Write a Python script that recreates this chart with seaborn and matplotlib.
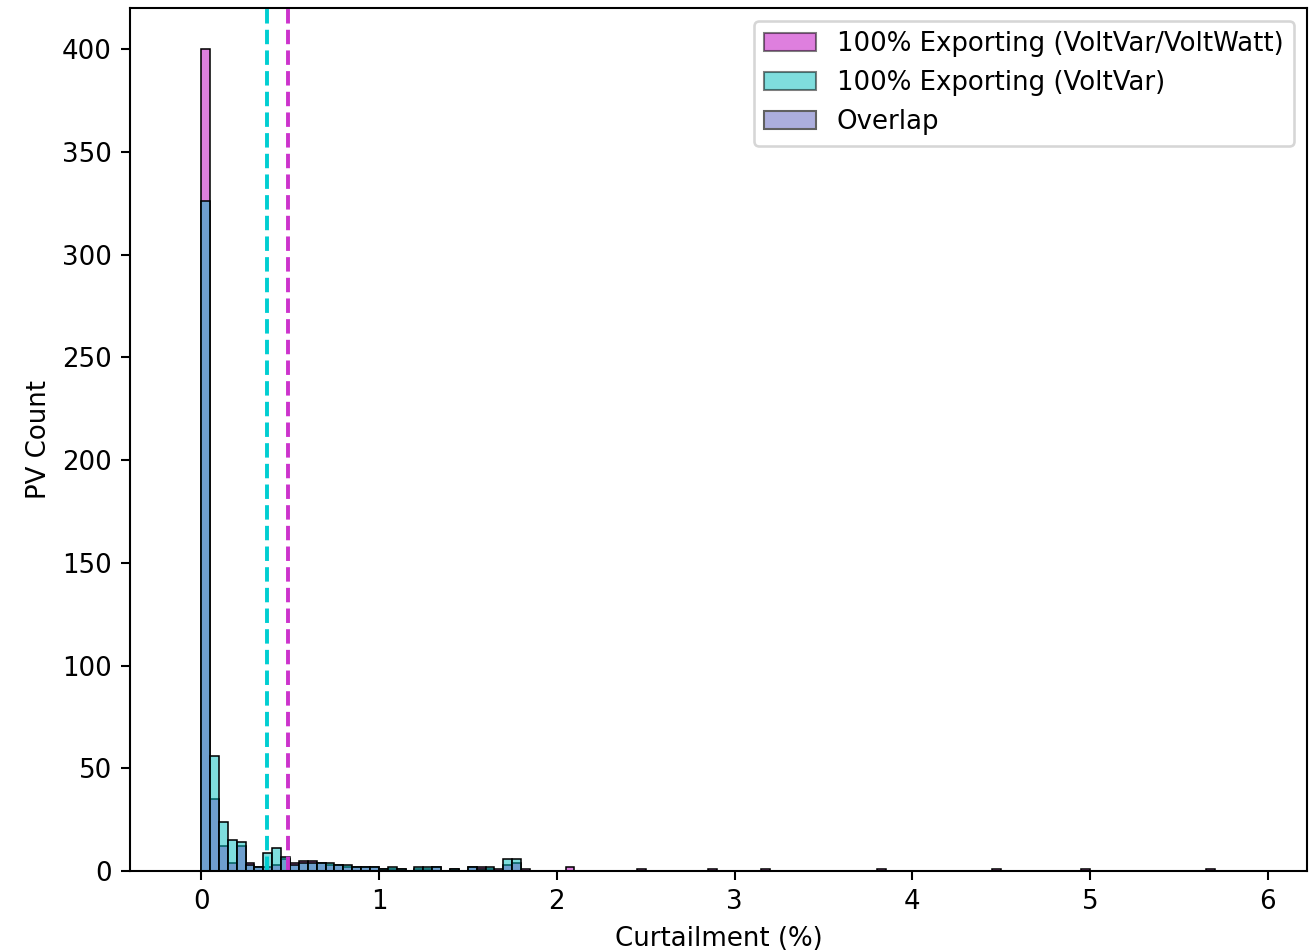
import numpy as np
import pandas as pd
import matplotlib
matplotlib.use("Agg")
import matplotlib.pyplot as plt
import seaborn as sns
from matplotlib.patches import Patch

# Curtailment (%) bin centres (bin width 0.05) and PV counts per bin
vvw_x = [0.025, 0.075, 0.125, 0.175, 0.225, 0.275, 0.325, 0.375, 0.425, 0.475,
         0.525, 0.575, 0.625, 0.675, 0.725, 0.775, 0.825, 0.875, 0.925, 0.975,
         1.025, 1.075, 1.125, 1.225, 1.275, 1.325, 1.425, 1.525, 1.575, 1.625,
         1.675, 1.725, 1.775, 1.825, 2.075, 2.475, 2.875, 3.175, 3.825, 4.475,
         4.975, 5.675]
vvw_n = [400, 35, 12, 4, 12, 4, 2, 2, 3, 6,
         4, 5, 5, 4, 3, 3, 2, 2, 2, 2,
         1, 1, 1, 1, 1, 2, 1, 2, 2, 1,
         1, 3, 4, 1, 2, 1, 1, 1, 1, 1,
         1, 1]

vv_x = [0.025, 0.075, 0.125, 0.175, 0.225, 0.275, 0.325, 0.375, 0.425, 0.475,
        0.525, 0.575, 0.625, 0.675, 0.725, 0.775, 0.825, 0.875, 0.925, 0.975,
        1.025, 1.075, 1.125, 1.225, 1.275, 1.325, 1.425, 1.525, 1.575, 1.625,
        1.725, 1.775]
vv_n = [326, 56, 24, 15, 14, 3, 2, 9, 11, 7,
        3, 4, 4, 4, 4, 3, 3, 2, 2, 2,
        1, 2, 1, 2, 2, 2, 1, 2, 1, 2,
        6, 6]

# mean curtailment markers
vvw_mean = 0.49
vv_mean = 0.37

DPI = 187.2
fig = plt.figure(figsize=(1309 / DPI, 951 / DPI), dpi=DPI)
ax = fig.add_axes([0.0993, 0.0841, 0.8992, 0.9075])

sns.histplot(x=vvw_x, weights=vvw_n, binwidth=0.05, binrange=(0, 5.7),
             color='m', alpha=0.5, edgecolor='black', linewidth=0.6, ax=ax)
sns.histplot(x=vv_x, weights=vv_n, binwidth=0.05, binrange=(0, 5.7),
             color='c', alpha=0.5, edgecolor='black', linewidth=0.6, ax=ax)

ax.axvline(vv_mean, color='darkturquoise', linestyle='--', linewidth=1.5)
ax.axvline(vvw_mean, color='#cc33cc', linestyle='--', linewidth=1.5)

ax.set_xlim(-0.4, 6.22)
ax.set_ylim(0, 420)
ax.set_xlabel('Curtailment (%)')
ax.set_ylabel('PV Count')

handles = [Patch(facecolor='m', edgecolor='black', alpha=0.5, linewidth=0.8),
           Patch(facecolor='c', edgecolor='black', alpha=0.5, linewidth=0.8),
           Patch(facecolor='#ACAEDD', edgecolor='#606060', linewidth=0.8)]
labels = ['100% Exporting (VoltVar/VoltWatt)', '100% Exporting (VoltVar)', 'Overlap']
ax.legend(handles, labels, loc='upper right')

plt.savefig('out.png', dpi=DPI)
